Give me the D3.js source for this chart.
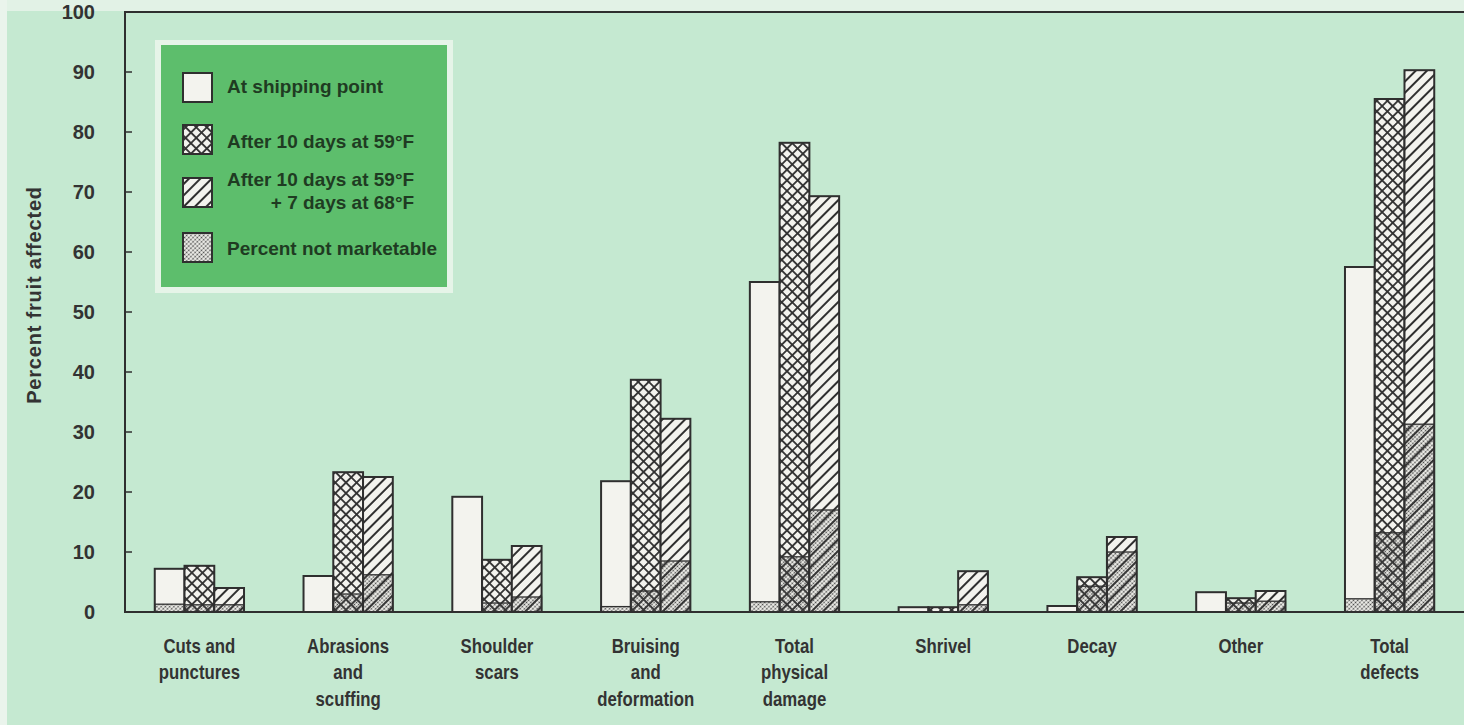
<!DOCTYPE html>
<html>
<head>
<meta charset="utf-8">
<script src="https://cdnjs.cloudflare.com/ajax/libs/d3/7.8.5/d3.min.js"></script>
<style>
  body { margin: 0; background: #c5e9d1; }
  svg { display: block; }
</style>
</head>
<body>
<script>
'use strict';

// category labels, one entry per line of text
let categories = [
  ["Cuts and", "punctures"],
  ["Abrasions", "and", "scuffing"],
  ["Shoulder", "scars"],
  ["Bruising", "and", "deformation"],
  ["Total", "physical", "damage"],
  ["Shrivel"],
  ["Decay"],
  ["Other"],
  ["Total", "defects"]
];

// percent fruit affected
let atShipping  = [7.2, 6.0, 19.2, 21.8, 55.0, 0.8, 1.0, 3.3, 57.5];
let after10Days = [7.7, 23.3, 8.7, 38.7, 78.2, 0.8, 5.8, 2.3, 85.5];
let after17Days = [4.0, 22.5, 11.0, 32.2, 69.3, 6.8, 12.5, 3.5, 90.3];

// part of each bar that is not marketable
let notMarketShipping = [1.3, 0, 0, 0.9, 1.7, 0, 0, 0, 2.2];
let notMarket10Days   = [1.2, 3.0, 1.5, 3.5, 9.2, 0, 4.3, 1.5, 13.2];
let notMarket17Days   = [1.2, 6.2, 2.5, 8.5, 17.0, 1.2, 10.0, 1.8, 31.3];

let yTicks = [0, 10, 20, 30, 40, 50, 60, 70, 80, 90, 100];

let legendLabels = [
  ["At shipping point"],
  ["After 10 days at 59°F"],
  ["After 10 days at 59°F", "+ 7 days at 68°F"],
  ["Percent not marketable"]
];

// colours
let paper = "#f3f3ee";
let ink = "#2f2f2f";

// chart size
let width = 1464, height = 725;
let margin = { top: 12, left: 125, bottom: 113, right: 0 };

let svg = d3.select("body").append("svg")
  .attr("width", width)
  .attr("height", height);

let series = [
  { values: atShipping, nm: notMarketShipping, fill: paper },
  { values: after10Days, nm: notMarket10Days, fill: "url(#cross)" },
  { values: after17Days, nm: notMarket17Days, fill: "url(#diag)" }
];

drawChart();

function drawChart() {
  drawBackground();
  addPatterns(svg.append("defs"));
  let scales = drawAxes();
  drawBars(scales);
  drawLabels(scales);
  drawLegend();
}

// lighter paper strips round the printed panel
function drawBackground() {
  svg.append("rect").attr("width", width).attr("height", height).attr("fill", "#c5e9d1");
  svg.append("rect").attr("width", width).attr("height", 11).attr("fill", "#e2f2e6");
  svg.append("rect").attr("width", 7).attr("height", height).attr("fill", "#eaf4ec");
}

// hatch fills
function addPatterns(defs) {
  let cross = defs.append("pattern")
    .attr("id", "cross")
    .attr("patternUnits", "userSpaceOnUse")
    .attr("width", 7.5).attr("height", 7.5)
    .attr("patternTransform", "rotate(45)");
  cross.append("rect").attr("width", 7.5).attr("height", 7.5).attr("fill", paper);
  cross.append("line").attr("x1", 0).attr("x2", 7.5).attr("y1", 3.75).attr("y2", 3.75)
    .attr("stroke", ink).attr("stroke-width", 1.8);
  cross.append("line").attr("x1", 3.75).attr("x2", 3.75).attr("y1", 0).attr("y2", 7.5)
    .attr("stroke", ink).attr("stroke-width", 1.8);

  let diag = defs.append("pattern")
    .attr("id", "diag")
    .attr("patternUnits", "userSpaceOnUse")
    .attr("width", 8).attr("height", 8)
    .attr("patternTransform", "rotate(-45)");
  diag.append("rect").attr("width", 8).attr("height", 8).attr("fill", paper);
  diag.append("line").attr("x1", 0).attr("x2", 8).attr("y1", 4).attr("y2", 4)
    .attr("stroke", ink).attr("stroke-width", 2);

  let dots = defs.append("pattern")
    .attr("id", "dots")
    .attr("patternUnits", "userSpaceOnUse")
    .attr("width", 3).attr("height", 3)
    .attr("patternTransform", "rotate(45)");
  dots.append("circle").attr("cx", 1.5).attr("cy", 1.5).attr("r", 0.9).attr("fill", "#444");
}

// axes and frame
function drawAxes() {
  let xScale = d3.scaleBand()
    .domain(d3.range(categories.length))
    .range([margin.left, width - margin.right])
    .paddingInner(0.4)
    .paddingOuter(0.2);

  let xInner = d3.scaleBand()
    .domain([0, 1, 2])
    .range([0, xScale.bandwidth()]);

  let yScale = d3.scaleLinear()
    .domain([0, 100])
    .range([height - margin.bottom, margin.top]);

  let yAxis = d3.axisLeft(yScale)
    .tickValues(yTicks)
    .tickSize(0)
    .tickPadding(30);

  let g = svg.append("g")
    .attr("transform", "translate(" + margin.left + ",0)")
    .call(yAxis);
  g.select(".domain").remove();
  g.selectAll("text")
    .attr("fill", "#333")
    .style("font-family", "'Liberation Sans', Arial, sans-serif")
    .style("font-weight", "bold")
    .style("font-size", "20px");

  // small inner ticks
  svg.append("g")
    .selectAll("line")
    .data(yTicks.filter(t => t > 0 && t < 100))
    .enter()
    .append("line")
    .attr("x1", margin.left).attr("x2", margin.left + 7)
    .attr("y1", d => yScale(d)).attr("y2", d => yScale(d))
    .attr("stroke", ink).attr("stroke-width", 1.5);

  // frame lines: top, left, bottom
  svg.append("path")
    .attr("d", "M" + width + "," + yScale(100) + "H" + margin.left + "V" + yScale(0) + "H" + width)
    .attr("fill", "none")
    .attr("stroke", ink)
    .attr("stroke-width", 2);

  return { xScale: xScale, xInner: xInner, yScale: yScale };
}

// grouped bars with not-marketable bottom parts
function drawBars(scales) {
  let x = scales.xScale, xi = scales.xInner, y = scales.yScale;
  let w = xi.bandwidth();

  categories.forEach((c, i) => {
    let g = svg.append("g").attr("transform", "translate(" + x(i) + ",0)");
    series.forEach((s, k) => {
      let v = s.values[i], nm = s.nm[i];
      g.append("rect")
        .attr("x", xi(k)).attr("width", w)
        .attr("y", y(v)).attr("height", y(0) - y(v))
        .attr("fill", s.fill);
      if (nm > 0) {
        g.append("rect")
          .attr("x", xi(k)).attr("width", w)
          .attr("y", y(nm)).attr("height", y(0) - y(nm))
          .attr("fill", "url(#dots)")
          .attr("stroke", ink).attr("stroke-width", 1.3);
      }
      g.append("rect")
        .attr("x", xi(k)).attr("width", w)
        .attr("y", y(v)).attr("height", y(0) - y(v))
        .attr("fill", "none")
        .attr("stroke", ink).attr("stroke-width", 2);
    });
  });
}

// category names and y title
function drawLabels(scales) {
  let x = scales.xScale;
  // condensed look: squeeze the text horizontally
  let t = svg.append("g").selectAll("text")
    .data(categories)
    .enter()
    .append("text")
    .attr("transform", (d, i) => "translate(" + (x(i) + x.bandwidth() / 2) + ",0) scale(0.84,1)")
    .attr("x", 0)
    .attr("y", 653)
    .attr("text-anchor", "middle")
    .attr("fill", "#333")
    .style("font-family", "'Liberation Sans', Arial, sans-serif")
    .style("font-weight", "bold")
    .style("font-size", "20px");
  t.selectAll("tspan")
    .data(d => d)
    .enter()
    .append("tspan")
    .attr("x", 0)
    .attr("dy", (d, j) => j === 0 ? 0 : 26.5)
    .text(d => d);

  svg.append("text")
    .attr("transform", "translate(41,295) rotate(-90)")
    .attr("text-anchor", "middle")
    .attr("fill", "#333")
    .style("font-family", "'Liberation Sans', Arial, sans-serif")
    .style("font-weight", "bold")
    .style("font-size", "20px")
    .style("letter-spacing", "0.8px")
    .text("Percent fruit affected");
}

// legend panel
function drawLegend() {
  let lg = svg.append("g");
  lg.append("rect").attr("x", 155).attr("y", 40).attr("width", 298).attr("height", 253).attr("fill", "#e6f4e8");
  lg.append("rect").attr("x", 161).attr("y", 45).attr("width", 286).attr("height", 242).attr("fill", "#5dbe6c");

  let swatchY = [73, 125, 178, 233];
  let textY = [[93], [148], [186], [209]];
  let fills = [paper, "url(#cross)", "url(#diag)", paper];
  textY = [[93], [148], [186, 209], [255]];

  legendLabels.forEach((lines, i) => {
    lg.append("rect")
      .attr("x", 183).attr("y", swatchY[i]).attr("width", 29).attr("height", 29)
      .attr("fill", fills[i]);
    if (i === 3) {
      lg.append("rect")
        .attr("x", 183).attr("y", swatchY[i]).attr("width", 29).attr("height", 29)
        .attr("fill", "url(#dots)");
    }
    lg.append("rect")
      .attr("x", 183).attr("y", swatchY[i]).attr("width", 29).attr("height", 29)
      .attr("fill", "none").attr("stroke", ink).attr("stroke-width", 2);

    let first = null;
    lines.forEach((line, j) => {
      let txt = lg.append("text")
        .attr("x", 227)
        .attr("y", textY[i][j])
        .attr("fill", "#1f3b22")
        .style("font-family", "'Liberation Sans', Arial, sans-serif")
        .style("font-weight", "bold")
        .style("font-size", "19px")
        .text(line);
      if (j === 0) first = txt;
      else {
        // second line is right aligned to the first one
        let end = 227 + first.node().getComputedTextLength();
        txt.attr("x", end).attr("text-anchor", "end");
      }
    });
  });
}
</script>
</body>
</html>
